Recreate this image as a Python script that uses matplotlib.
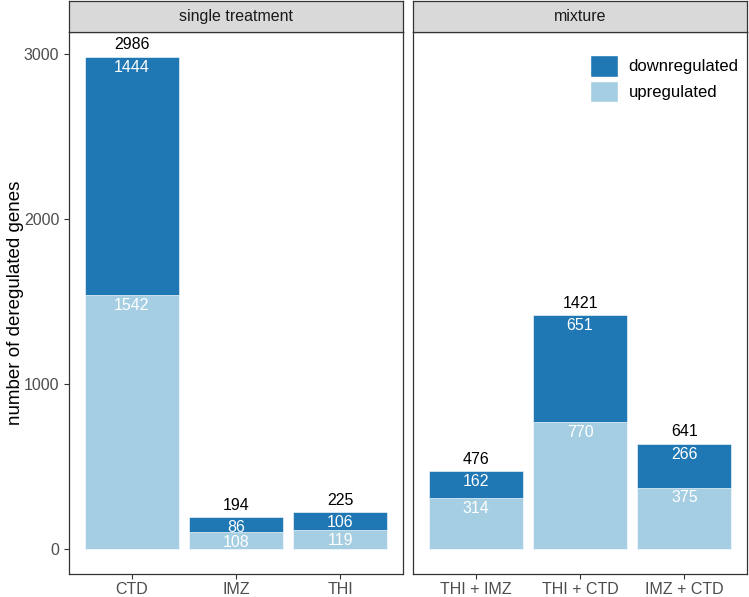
import matplotlib.pyplot as plt
from matplotlib.patches import Patch, Rectangle

plt.rcParams['font.family'] = ['Liberation Sans', 'DejaVu Sans']

# data
single_labels = ['CTD', 'IMZ', 'THI']
single_up = [1542, 108, 119]
single_down = [1444, 86, 106]

mix_labels = ['THI + IMZ', 'THI + CTD', 'IMZ + CTD']
mix_up = [314, 770, 375]
mix_down = [162, 651, 266]

panel_titles = ['single treatment', 'mixture']

col_down = '#1f78b4'
col_up = '#a6cee3'
grey_txt = '#4d4d4d'
border = '#333333'

W, H = 749, 597
fig = plt.figure(figsize=(W / 100, H / 100), dpi=100)


def px_axes(x0, y0, x1, y1):
    # pixel box (top-left origin) -> figure axes
    return fig.add_axes([x0 / W, 1 - y1 / H, (x1 - x0) / W, (y1 - y0) / H])


ymin, ymax = -149, 3135
panels = [(69, single_labels, single_up, single_down),
          (413, mix_labels, mix_up, mix_down)]

for i, (left, labels, up, down) in enumerate(panels):
    ax = px_axes(left, 32, left + 334, 574)
    xs = list(range(1, len(labels) + 1))
    ax.bar(xs, up, width=0.9, color=col_up, edgecolor='white', linewidth=0.4)
    ax.bar(xs, down, bottom=up, width=0.9, color=col_down,
           edgecolor='white', linewidth=0.4)
    for x, u, d in zip(xs, up, down):
        tot = u + d
        ax.annotate(str(tot), (x, tot), xytext=(0, 3), textcoords='offset points',
                    ha='center', va='bottom', fontsize=11.5, color='black')
        ax.annotate(str(d), (x, tot), xytext=(0, -7.5), textcoords='offset points',
                    ha='center', va='center', fontsize=11.5, color='white')
        ax.annotate(str(u), (x, u), xytext=(0, -7.5), textcoords='offset points',
                    ha='center', va='center', fontsize=11.5, color='white')
    ax.set_xlim(0.4, len(labels) + 0.6)
    ax.set_ylim(ymin, ymax)
    ax.set_xticks(xs)
    ax.set_xticklabels(labels)
    ax.set_yticks([0, 1000, 2000, 3000])
    ax.tick_params(colors=border, labelcolor=grey_txt, labelsize=11.5,
                   length=3.5, width=0.8)
    ax.tick_params(axis='x', pad=2)
    for s in ax.spines.values():
        s.set_color(border)
        s.set_linewidth(0.9)
    if i == 0:
        ax.set_ylabel('number of deregulated genes', fontsize=13.5, labelpad=0)
    else:
        ax.set_yticklabels([])
        ax.tick_params(axis='y', length=0)
        handles = [Patch(facecolor=col_down, edgecolor='white', label='downregulated'),
                   Patch(facecolor=col_up, edgecolor='white', label='upregulated')]
        ax.legend(handles=handles, loc='upper right', bbox_to_anchor=(1.02, 0.985),
                  frameon=False, fontsize=12, handlelength=1.7, handleheight=1.6,
                  handletextpad=0.65, labelspacing=0.25)

    # facet strip
    sax = px_axes(left, 1, left + 334, 32)
    sax.add_patch(Rectangle((0, 0), 1, 1, transform=sax.transAxes,
                            facecolor='#d9d9d9', edgecolor='none'))
    sax.text(0.5, 0.5, panel_titles[i], ha='center', va='center',
             fontsize=11.5, color='#1a1a1a')
    sax.set_xticks([])
    sax.set_yticks([])
    for s in sax.spines.values():
        s.set_color(border)
        s.set_linewidth(0.9)

fig.savefig('out.png', dpi=100)
